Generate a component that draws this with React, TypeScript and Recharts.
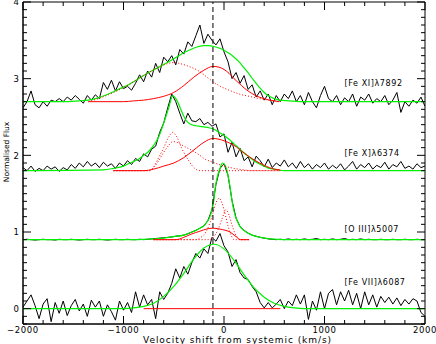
import React from 'react';
import { LineChart, Line, XAxis, YAxis, ReferenceLine, ReferenceDot, ReferenceArea, Label } from 'recharts';

// observed spectra share one velocity grid (km/s), 40 km/s bins
const obsVel = Array.from({ length: 101 }, (_, i) => -2000 + 40 * i);

const feXIObs = [
  2.62, 2.70, 2.84, 2.66, 2.62, 2.70, 2.64, 2.72, 2.70, 2.74,
  2.70, 2.76, 2.72, 2.78, 2.73, 2.68, 2.78, 2.72, 2.79, 2.74,
  2.95, 2.86, 2.98, 2.84, 2.96, 2.87, 2.90, 2.85, 2.94, 3.05,
  2.96, 3.10, 3.02, 3.20, 3.08, 3.28, 3.22, 3.30, 3.18, 3.38,
  3.32, 3.48, 3.42, 3.56, 3.70, 3.46, 3.58, 3.50, 3.44, 3.52,
  3.35, 3.22, 3.00, 3.08, 2.94, 3.04, 2.86, 2.92, 2.76, 2.84,
  2.72, 2.80, 2.66, 2.78, 2.70, 2.80, 2.74, 2.84, 2.70, 2.78,
  2.66, 2.82, 2.70, 2.62, 2.78, 2.90, 2.74, 2.70, 2.78, 2.66,
  2.75, 2.70, 2.80, 2.64, 2.76, 2.72, 2.80, 2.68, 2.74, 2.70,
  2.78, 2.66, 2.72, 2.82, 2.56, 2.70, 2.64, 2.72, 2.68, 2.76,
  2.64,
];

const feXObs = [
  1.84, 1.80, 1.86, 1.79, 1.83, 1.80, 1.86, 1.82, 1.85, 1.79,
  1.84, 1.81, 1.88, 1.83, 1.90, 1.85, 1.92, 1.86, 1.90, 1.84,
  1.91, 1.86, 1.89, 1.83, 1.90, 1.86, 1.93, 1.88, 1.96, 1.92,
  2.02, 1.98, 2.08, 2.12, 2.30, 2.42, 2.62, 2.80, 2.70, 2.55,
  2.41, 2.55, 2.45, 2.44, 2.48, 2.40, 2.43, 2.38, 2.41, 2.24,
  2.28, 2.04, 2.17, 1.98, 2.09, 1.93, 1.98, 1.85, 1.99, 1.93,
  1.85, 1.95, 1.84, 1.90, 1.86, 1.94, 1.85, 1.90, 1.83, 1.92,
  1.84, 1.89, 1.82, 1.88, 1.84, 1.90, 1.82, 1.87, 1.83, 1.89,
  1.81, 1.86, 1.92, 1.82, 1.88, 1.84, 1.90, 1.82, 1.87, 1.84,
  1.91, 1.82, 1.88, 1.85, 1.92, 1.83, 1.86, 1.82, 1.89, 1.84,
  1.86,
];

const oIIIObs = [
  0.900, 0.905, 0.900, 0.895, 0.900, 0.905, 0.900, 0.900, 0.895, 0.905,
  0.900, 0.900, 0.905, 0.900, 0.895, 0.900, 0.905, 0.900, 0.900, 0.905,
  0.900, 0.895, 0.900, 0.905, 0.900, 0.900, 0.905, 0.900, 0.900, 0.905,
  0.900, 0.905, 0.910, 0.915, 0.920, 0.925, 0.930, 0.935, 0.945, 0.950,
  0.960, 0.975, 1.000, 1.020, 1.050, 1.080, 1.150, 1.290, 1.620, 1.830,
  1.890, 1.740, 1.410, 1.180, 1.070, 1.020, 0.985, 0.960, 0.945, 0.930,
  0.920, 0.910, 0.905, 0.900, 0.905, 0.900, 0.910, 0.900, 0.905, 0.900,
  0.910, 0.900, 0.905, 0.915, 0.900, 0.905, 0.900, 0.910, 0.900, 0.905,
  0.915, 0.900, 0.905, 0.900, 0.910, 0.900, 0.905, 0.900, 0.900, 0.905,
  0.900, 0.900, 0.905, 0.900, 0.900, 0.905, 0.900, 0.900, 0.905, 0.900,
  0.900,
];

const feVIIObs = [
  0.02, 0.10, 0.18, 0.04, -0.13, 0.06, 0.13, -0.17, 0.08, -0.06,
  0.10, -0.09, 0.04, 0.12, -0.03, 0.06, -0.10, 0.11, 0.02, 0.10,
  -0.10, 0.05, -0.04, -0.15, 0.10, -0.02, 0.08, -0.05, 0.22, 0.02,
  0.18, 0.05, 0.12, -0.13, 0.22, 0.12, 0.20, 0.33, 0.52, 0.40,
  0.55, 0.45, 0.60, 0.72, 0.66, 0.78, 0.72, 0.93, 0.88, 0.98,
  0.82, 0.74, 0.55, 0.64, 0.47, 0.40, 0.38, 0.29, 0.22, 0.08,
  0.01, 0.08, 0.01, 0.06, 0.12, 0.00, 0.10, 0.04, 0.18, 0.06,
  0.18, -0.14, 0.10, -0.02, 0.22, 0.00, 0.20, 0.25, 0.05, 0.22,
  0.10, 0.24, 0.05, 0.20, 0.00, 0.22, 0.05, 0.18, 0.02, 0.16,
  0.08, 0.15, 0.06, 0.14, 0.04, 0.12, 0.06, 0.13, 0.10, -0.05,
  -0.10,
];

// fitted profiles, [velocity, flux]
const feXIGreen = [
  [-2000, 2.70], [-1600, 2.70], [-1450, 2.71], [-1350, 2.72], [-1250, 2.75], [-1150, 2.80],
  [-1050, 2.86], [-950, 2.92], [-850, 3.00], [-750, 3.08], [-650, 3.15], [-550, 3.22],
  [-450, 3.30], [-350, 3.37], [-250, 3.42], [-200, 3.43], [-150, 3.43], [-100, 3.42],
  [-50, 3.40], [0, 3.37], [50, 3.33], [100, 3.28], [150, 3.22], [200, 3.14], [250, 3.06],
  [300, 2.97], [350, 2.89], [400, 2.82], [450, 2.77], [500, 2.74], [550, 2.72], [650, 2.71],
  [750, 2.70], [2000, 2.70],
];
const feXIRed = [
  [-1350, 2.70], [-1000, 2.70], [-900, 2.71], [-800, 2.72], [-700, 2.74], [-600, 2.77],
  [-500, 2.82], [-400, 2.91], [-300, 3.02], [-200, 3.11], [-110, 3.16], [-50, 3.15],
  [0, 3.12], [50, 3.07], [100, 3.00], [150, 2.94], [200, 2.88], [250, 2.83], [300, 2.79],
  [350, 2.76], [400, 2.74], [450, 2.72], [500, 2.71], [550, 2.70],
];
const feXIDotted = [
  [-1350, 2.70], [-1250, 2.74], [-1150, 2.79], [-1050, 2.85], [-950, 2.92], [-850, 3.00],
  [-750, 3.08], [-650, 3.15], [-550, 3.20], [-500, 3.21], [-450, 3.20], [-350, 3.16],
  [-250, 3.10], [-150, 3.00], [-50, 2.91], [50, 2.85], [150, 2.80], [250, 2.77],
  [350, 2.74], [450, 2.72], [550, 2.70],
];

const feXGreen = [
  [-2000, 1.80], [-1200, 1.81], [-1100, 1.83], [-1000, 1.86], [-950, 1.89], [-900, 1.92],
  [-850, 1.95], [-800, 2.00], [-750, 2.05], [-700, 2.13], [-650, 2.24], [-600, 2.42],
  [-550, 2.62], [-510, 2.78], [-470, 2.72], [-430, 2.60], [-400, 2.51], [-360, 2.43],
  [-300, 2.39], [-250, 2.38], [-200, 2.37], [-150, 2.36], [-100, 2.34], [-50, 2.30],
  [0, 2.26], [50, 2.21], [100, 2.15], [150, 2.09], [200, 2.03], [250, 1.98], [300, 1.93],
  [350, 1.89], [400, 1.86], [450, 1.83], [500, 1.82], [600, 1.80], [2000, 1.80],
];
const feXRed = [
  [-1100, 1.80], [-800, 1.80], [-700, 1.82], [-600, 1.86], [-500, 1.90], [-400, 1.97],
  [-300, 2.07], [-200, 2.17], [-110, 2.22], [-50, 2.21], [0, 2.19], [100, 2.13],
  [200, 2.03], [300, 1.94], [400, 1.87], [500, 1.82], [560, 1.81],
];
const feXDotNarrow = [
  [-1100, 1.80], [-740, 1.80], [-700, 1.85], [-650, 1.97], [-600, 2.10], [-550, 2.24],
  [-510, 2.30], [-470, 2.24], [-420, 2.09], [-370, 1.97], [-320, 1.87], [-270, 1.81],
  [-240, 1.80], [560, 1.80],
];
const feXDotBroad = [
  [-1100, 1.80], [-740, 1.80], [-700, 1.84], [-650, 1.93], [-600, 2.04], [-550, 2.13],
  [-510, 2.18], [-470, 2.17], [-400, 2.12], [-300, 2.05], [-240, 2.00], [-200, 1.96],
  [-110, 1.91], [0, 1.86], [100, 1.83], [200, 1.81], [260, 1.80], [560, 1.80],
];

const oIIIGreen = [
  [-2000, 0.90], [-900, 0.90], [-700, 0.91], [-600, 0.92], [-500, 0.94], [-400, 0.96],
  [-340, 0.99], [-300, 1.01], [-240, 1.05], [-200, 1.08], [-170, 1.13], [-140, 1.20],
  [-120, 1.29], [-100, 1.42], [-90, 1.55], [-70, 1.70], [-40, 1.83], [-15, 1.90],
  [10, 1.87], [30, 1.80], [45, 1.70], [60, 1.59], [75, 1.45], [90, 1.33], [110, 1.22],
  [130, 1.15], [160, 1.07], [200, 1.02], [230, 0.99], [280, 0.96], [330, 0.94],
  [400, 0.92], [460, 0.91], [600, 0.90], [2000, 0.90],
];
const oIIIRed = [
  [-700, 0.90], [-480, 0.90], [-400, 0.93], [-330, 0.97], [-240, 1.01], [-170, 1.04],
  [-110, 1.05], [-50, 1.04], [20, 1.02], [60, 1.00], [100, 0.96], [130, 0.93],
  [160, 0.90], [250, 0.90],
];
const oIIIDot1 = [
  [-700, 0.90], [-280, 0.90], [-230, 0.93], [-180, 1.00], [-140, 1.12], [-110, 1.25],
  [-80, 1.38], [-50, 1.44], [-20, 1.38], [10, 1.24], [40, 1.08], [70, 0.96],
  [100, 0.90], [250, 0.90],
];
const oIIIDot2 = [
  [-700, 0.90], [-150, 0.90], [-100, 0.94], [-60, 1.03], [-20, 1.17], [20, 1.29],
  [50, 1.22], [80, 1.09], [110, 0.98], [140, 0.92], [170, 0.90], [250, 0.90],
];

const feVIIGreen = [
  [-2000, 0], [-1000, 0], [-900, 0.01], [-800, 0.03], [-700, 0.07], [-600, 0.16],
  [-500, 0.29], [-400, 0.46], [-300, 0.65], [-200, 0.79], [-100, 0.84], [0, 0.78],
  [100, 0.63], [200, 0.44], [300, 0.27], [400, 0.15], [500, 0.07], [600, 0.03],
  [700, 0.01], [800, 0], [2000, 0],
];
const feVIIRed = [[-800, 0], [560, 0]];

const lineLabels = [
  { text: '[Fe XI]\u03bb7892', v: 1200, f: 2.94 },
  { text: '[Fe X]\u03bb6374', v: 1200, f: 2.03 },
  { text: '[O III]\u03bb5007', v: 1200, f: 1.04 },
  { text: '[Fe VII]\u03bb6087', v: 1200, f: 0.34 },
];

const systemicShift = -110;

const xTicks = [-2000, -1800, -1600, -1400, -1200, -1000, -800, -600, -400, -200, 0,
  200, 400, 600, 800, 1000, 1200, 1400, 1600, 1800, 2000];
const yTicks = Array.from({ length: 43 }, (_, i) => (i - 2) / 10);

const W = 436;
const H = 344;
const PLOT = { left: 23, right: 425, top: 2, bottom: 324 };
const MAJOR = 8;
const MINOR = 4;
const FONT = '"DejaVu Sans", sans-serif';

const GREEN = '#00f000';
const RED = '#ff0000';

const isMajorX = (v: number) => v % 1000 === 0;
const isMajorY = (v: number) => Math.abs(v - Math.round(v)) < 1e-6;
const fmtX = (v: number) => (v < 0 ? `\u2212${-v}` : `${v}`);

const toRows = (pairs: number[][]) => pairs.map(([v, f]) => ({ v, f }));
const obsRows = (vals: number[]) => obsVel.map((v, i) => ({ v, f: vals[i] }));

// IDL-style box: ticks point inwards on all four sides
const BottomTick = ({ x, payload }: any) => {
  const major = isMajorX(payload.value);
  const len = major ? MAJOR : MINOR;
  return (
    <g>
      <line x1={x} x2={x} y1={PLOT.bottom} y2={PLOT.bottom - len} stroke="#000" strokeWidth={1} />
      <line x1={x} x2={x} y1={PLOT.top} y2={PLOT.top + len} stroke="#000" strokeWidth={1} />
      {major && (
        <text x={x} y={333} textAnchor="middle" fontSize={8.5} letterSpacing={0.6} fontFamily={FONT} fill="#000">
          {fmtX(payload.value)}
        </text>
      )}
    </g>
  );
};

const LeftTick = ({ y, payload }: any) => {
  const major = isMajorY(payload.value);
  const len = major ? MAJOR : MINOR;
  return (
    <g>
      <line x1={PLOT.left} x2={PLOT.left + len} y1={y} y2={y} stroke="#000" strokeWidth={1} />
      <line x1={PLOT.right} x2={PLOT.right - len} y1={y} y2={y} stroke="#000" strokeWidth={1} />
      {major && (
        <text x={19} y={y} dy={3.2} textAnchor="end" fontSize={8.5} fontFamily={FONT} fill="#000">
          {Math.round(payload.value)}
        </text>
      )}
    </g>
  );
};

type Curve = { key: string; rows: { v: number; f: number }[]; color: string; width: number; dash?: string; smooth: boolean };

const curves: Curve[] = [
  { key: 'feXIObs', rows: obsRows(feXIObs), color: '#000', width: 1, smooth: false },
  { key: 'feXObs', rows: obsRows(feXObs), color: '#000', width: 1, smooth: false },
  { key: 'oIIIObs', rows: obsRows(oIIIObs), color: '#000', width: 1, smooth: false },
  { key: 'feVIIObs', rows: obsRows(feVIIObs), color: '#000', width: 1, smooth: false },
  { key: 'feXIGreen', rows: toRows(feXIGreen), color: GREEN, width: 1.2, smooth: true },
  { key: 'feXGreen', rows: toRows(feXGreen), color: GREEN, width: 1.2, smooth: true },
  { key: 'oIIIGreen', rows: toRows(oIIIGreen), color: GREEN, width: 1.2, smooth: true },
  { key: 'feVIIGreen', rows: toRows(feVIIGreen), color: GREEN, width: 1.2, smooth: true },
  { key: 'feXIDotted', rows: toRows(feXIDotted), color: RED, width: 1, dash: '1 2', smooth: true },
  { key: 'feXDotNarrow', rows: toRows(feXDotNarrow), color: RED, width: 1, dash: '1 2', smooth: true },
  { key: 'feXDotBroad', rows: toRows(feXDotBroad), color: RED, width: 1, dash: '1 2', smooth: true },
  { key: 'oIIIDot1', rows: toRows(oIIIDot1), color: RED, width: 1, dash: '1 2', smooth: true },
  { key: 'oIIIDot2', rows: toRows(oIIIDot2), color: RED, width: 1, dash: '1 2', smooth: true },
  { key: 'feXIRed', rows: toRows(feXIRed), color: RED, width: 1, smooth: true },
  { key: 'feXRed', rows: toRows(feXRed), color: RED, width: 1, smooth: true },
  { key: 'oIIIRed', rows: toRows(oIIIRed), color: RED, width: 1, smooth: true },
  { key: 'feVIIRed', rows: toRows(feVIIRed), color: RED, width: 1, smooth: false },
];

export default function App() {
  return (
    <div style={{ position: 'absolute', left: 0, top: 0, width: W, height: H, background: '#fff' }}>
      <LineChart width={W} height={H} margin={{ top: PLOT.top, right: W - PLOT.right, bottom: 0, left: 0 }}>
        <XAxis
          dataKey="v"
          type="number"
          domain={[-2000, 2000]}
          allowDataOverflow
          ticks={xTicks}
          interval={0}
          height={H - PLOT.bottom}
          tickLine={false}
          tick={<BottomTick />}
          axisLine={{ stroke: '#000' }}
        >
          <Label
            content={() => (
              <text x={143} y={342.5} textAnchor="start" fontSize={9} letterSpacing={0.95} fontFamily={FONT} fill="#000">
                Velocity shift from systemic (km/s)
              </text>
            )}
          />
        </XAxis>
        <YAxis
          type="number"
          domain={[-0.2, 4]}
          allowDataOverflow
          ticks={yTicks}
          interval={0}
          width={PLOT.left}
          tickLine={false}
          tick={<LeftTick />}
          axisLine={{ stroke: '#000' }}
        >
          <Label
            content={() => (
              <text x={6} y={152} transform="rotate(-90 6 152)" textAnchor="middle" dominantBaseline="central" fontSize={7.5} fontFamily={FONT} fill="#000">
                Normalised Flux
              </text>
            )}
          />
        </YAxis>
        <ReferenceArea x1={-2000} x2={2000} y1={-0.2} y2={4} fill="none" stroke="#000" strokeWidth={1} fillOpacity={0} />
        {curves.map((c) => (
          <Line
            key={c.key}
            data={c.rows}
            dataKey="f"
            type={c.smooth ? 'monotone' : 'linear'}
            stroke={c.color}
            strokeWidth={c.width}
            strokeDasharray={c.dash}
            dot={false}
            activeDot={false}
            isAnimationActive={false}
          />
        ))}
        <ReferenceLine x={systemicShift} stroke="#000" strokeDasharray="5 3" />
        {lineLabels.map((l) => (
          <ReferenceDot
            key={l.text}
            x={l.v}
            y={l.f}
            r={0}
            stroke="none"
            fill="none"
            label={{ value: l.text, position: 'right', offset: 0, fontSize: 8, letterSpacing: 0.6, fontFamily: FONT, fill: '#000' }}
          />
        ))}
      </LineChart>
    </div>
  );
}
